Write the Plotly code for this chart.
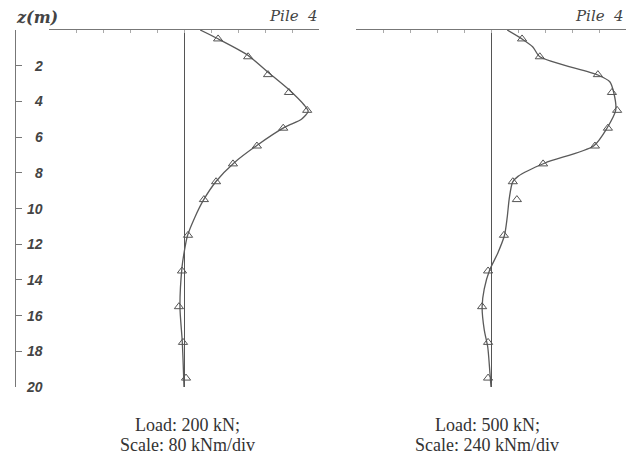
import plotly.graph_objects as go

# ---------------- data ----------------
# Depth below pile head (m)
z_meas = [0.5, 1.5, 2.5, 3.5, 4.5, 5.5, 6.5, 7.5, 8.5, 9.5, 11.5, 13.5, 15.5, 17.5, 19.5]

# Load 200 kN (scale 80 kNm/div) - measured bending moment (kNm)
m200_meas = [101, 190, 249, 311, 365, 294, 216, 145, 95, 59, 12, -6, -15, -3, 6]
# fitted curve
z200_fit = [0, 0.45, 1.4, 2.35, 3.36, 4.2, 4.55, 5.0, 5.43, 6.44, 7.45, 8.46, 9.52, 10.5, 11.54, 12.5, 13.3, 15.5, 17.5, 20]
m200_fit = [48, 96, 188, 248, 312, 356, 368, 348, 300, 218, 148, 96, 58, 32, 10, 0, -6, -12, -5, 0]

# Load 500 kN (scale 240 kNm/div)
m500_meas = [276, 434, 950, 1075, 1121, 1039, 924, 463, 194, 230, 115, -26, -79, -26, -26]
z500_fit = [0, 0.5, 0.95, 1.5, 2.52, 2.9, 3.53, 4.48, 5.49, 6.5, 7.45, 8.2, 8.52, 9.4, 10.5, 11.5, 12.5, 13.45, 14.5, 15.5, 16.8, 17.76, 19, 20]
m500_fit = [144, 276, 372, 434, 950, 1056, 1092, 1109, 1032, 912, 480, 240, 192, 163, 144, 120, 60, -12, -60, -79, -60, -29, -12, 0]

scale200 = 80
scale500 = 240
ytick_vals = [2, 4, 6, 8, 10, 12, 14, 16, 18, 20]
captions = [("Load: 200 kN;", "Scale: 80 kNm/div"), ("Load: 500 kN;", "Scale: 240 kNm/div")]
title = "Pile 4"

# ---------------- figure ----------------
W, H = 633, 457
ML, MR, MT, MB = 0, 0, 30, 70
PH = H - MT - MB

def px(x):
    return x / W

def py(y):
    return (H - MB - y) / PH

LINE = "#5a5a5a"
fig = go.Figure()

for xa, mf, zf, mm, sc in [("x", m200_fit, z200_fit, m200_meas, scale200),
                            ("x2", m500_fit, z500_fit, m500_meas, scale500)]:
    fig.add_trace(go.Scatter(x=[v / sc for v in mf], y=zf, xaxis=xa, yaxis="y",
                             mode="lines", line=dict(color=LINE, width=1.3, shape="spline", smoothing=0.7),
                             hoverinfo="skip", showlegend=False))
    fig.add_trace(go.Scatter(x=[v / sc for v in mm], y=z_meas, xaxis=xa, yaxis="y",
                             mode="markers",
                             marker=dict(symbol="triangle-up-open", size=8, color="#555",
                                         line=dict(width=1, color="#555")),
                             hoverinfo="skip", showlegend=False))

xcommon = dict(range=[-5, 5], side="top", showline=True, linecolor="#777", linewidth=1,
               ticks="inside", ticklen=3, tickcolor="#aaa", tickwidth=1, dtick=1, tick0=0,
               showticklabels=False, showgrid=False, zeroline=True, zerolinecolor="#555",
               zerolinewidth=1, fixedrange=True)

fig.update_layout(
    width=W, height=H,
    margin=dict(l=ML, r=MR, t=MT, b=MB),
    paper_bgcolor="white", plot_bgcolor="white",
    xaxis=dict(domain=[px(49), px(319)], anchor="y", **xcommon),
    xaxis2=dict(domain=[px(356), px(626)], anchor="y", **xcommon),
    yaxis=dict(range=[20, 0], anchor="free", position=px(15), showline=True, linecolor="#777",
               linewidth=1, ticks="inside", ticklen=6, tickcolor="#777", dtick=2, tick0=0,
               showticklabels=False, showgrid=False, zeroline=False, fixedrange=True),
)

ann = []
for v in ytick_vals:
    ann.append(dict(x=px(45), xref="paper", xanchor="right", y=v, yref="y", yanchor="middle",
                    text=str(v), showarrow=False,
                    font=dict(family="Liberation Sans", size=14, color="#444", style="italic", weight="bold")))
ann.append(dict(x=px(14), xref="paper", xanchor="left", y=py(18), yref="paper", yanchor="middle",
                text="z(m)", showarrow=False,
                font=dict(family="DejaVu Serif", size=16, color="#444", style="italic", weight="bold")))
for xr in (320, 626):
    ann.append(dict(x=px(xr), xref="paper", xanchor="right", y=py(16), yref="paper", yanchor="middle",
                    text=title.replace(" ", "&nbsp;&nbsp;"), showarrow=False,
                    font=dict(family="DejaVu Serif", size=15, color="#444", style="italic")))
for cx, (l1, l2) in zip((188, 487), captions):
    ann.append(dict(x=px(cx), xref="paper", xanchor="center", y=py(425), yref="paper", yanchor="middle",
                    text=l1, showarrow=False,
                    font=dict(family="Liberation Serif", size=18, color="#333")))
    ann.append(dict(x=px(cx), xref="paper", xanchor="center", y=py(445), yref="paper", yanchor="middle",
                    text=l2, showarrow=False,
                    font=dict(family="Liberation Serif", size=18, color="#333")))
fig.update_layout(annotations=ann)

fig.write_html("out.html")
